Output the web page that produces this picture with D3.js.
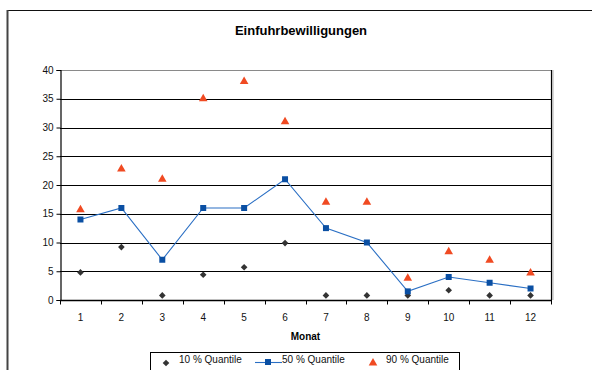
<!DOCTYPE html>
<html>
<head>
<meta charset="utf-8">
<script src="https://cdn.jsdelivr.net/npm/d3@7"></script>
<style>
  html, body { margin: 0; padding: 0; background: #fff; }
  svg { display: block; font-family: "Liberation Sans", Arial, sans-serif; }
</style>
</head>
<body>
<svg id="chart" width="592" height="370"></svg>
<script>
// Monthly import permits: 10 %, 50 % and 90 % quantiles
const months = ["1", "2", "3", "4", "5", "6", "7", "8", "9", "10", "11", "12"];
const q10 = [4.8, 9.2, 0.8, 4.4, 5.7, 9.9, 0.8, 0.8, 0.8, 1.7, 0.8, 0.8];
const q50 = [14, 16, 7, 16, 16, 21, 12.5, 10, 1.5, 4, 3, 2];
const q90 = [15.7, 22.8, 21, 35, 38, 31, 17, 17, 3.8, 8.4, 6.9, 4.7];
const yTicks = [0, 5, 10, 15, 20, 25, 30, 35, 40];
const legendLabels = ["10 % Quantile", "50 % Quantile", "90 % Quantile"];

const svg = d3.select("#chart");
const plot = { left: 60, right: 551, top: 70, bottom: 300 };

const x = d3.scaleBand().domain(months).range([plot.left, plot.right]);
const y = d3.scaleLinear().domain([0, 40]).range([plot.bottom, plot.top]);

const colors = { q10: "#333333", q50: "#0a4fa3", line: "#2a6fc4", q90: "#f04a22" };

// outer chart frame (open on the right and bottom)
svg.append("line").attr("x1", 7).attr("x2", 592).attr("y1", 10.5).attr("y2", 10.5)
  .attr("stroke", "#111").attr("stroke-width", 1);
svg.append("line").attr("x1", 7.5).attr("x2", 7.5).attr("y1", 10).attr("y2", 370)
  .attr("stroke", "#444").attr("stroke-width", 2);

// title
svg.append("text").attr("x", 301).attr("y", 35).attr("text-anchor", "middle")
  .attr("font-size", 13).attr("font-weight", "bold").attr("fill", "#000")
  .text("Einfuhrbewilligungen");

// horizontal gridlines
svg.append("g").selectAll("line").data(yTicks.filter(d => d > 0 && d < 40)).join("line")
  .attr("x1", plot.left).attr("x2", plot.right)
  .attr("y1", d => Math.round(y(d)) + 0.5).attr("y2", d => Math.round(y(d)) + 0.5)
  .attr("stroke", "#000").attr("stroke-width", 1);

// plot area border: grey top, black right with a light shadow
svg.append("line").attr("x1", plot.left).attr("x2", plot.right + 1)
  .attr("y1", plot.top + 0.5).attr("y2", plot.top + 0.5)
  .attr("stroke", "#8a8a8a").attr("stroke-width", 1.2);
svg.append("line").attr("x1", plot.right + 2).attr("x2", plot.right + 2)
  .attr("y1", plot.top).attr("y2", plot.bottom)
  .attr("stroke", "#b0b0b0").attr("stroke-width", 1);
svg.append("line").attr("x1", plot.right + 0.5).attr("x2", plot.right + 0.5)
  .attr("y1", plot.top).attr("y2", plot.bottom)
  .attr("stroke", "#000").attr("stroke-width", 1.2);

// y axis
const yAxis = svg.append("g").attr("transform", `translate(${plot.left + 0.5},0)`)
  .call(d3.axisLeft(y).tickValues(yTicks).tickSize(4).tickPadding(3));
yAxis.select(".domain").attr("stroke", "#000").attr("stroke-width", 1.2);
yAxis.selectAll(".tick line").attr("stroke", "#000");
yAxis.selectAll(".tick text").attr("font-size", 10).attr("fill", "#111")
  .attr("font-family", "Liberation Sans, Arial, sans-serif");

// x axis with ticks between categories
const xAxisG = svg.append("g").attr("transform", `translate(0,${plot.bottom + 0.5})`);
xAxisG.append("line").attr("x1", plot.left).attr("x2", plot.right + 1)
  .attr("stroke", "#000").attr("stroke-width", 1.3);
const boundaries = months.map(m => x(m)).concat([plot.right]);
xAxisG.selectAll("line.tk").data(boundaries).join("line").attr("class", "tk")
  .attr("x1", d => Math.round(d) + 0.5).attr("x2", d => Math.round(d) + 0.5)
  .attr("y1", 0).attr("y2", 4).attr("stroke", "#000");
xAxisG.selectAll("text").data(months).join("text")
  .attr("x", d => x(d) + x.bandwidth() / 2).attr("y", 20)
  .attr("text-anchor", "middle").attr("font-size", 10).attr("fill", "#111")
  .text(d => d);

// x axis title
svg.append("text").attr("x", (plot.left + plot.right) / 2).attr("y", 340)
  .attr("text-anchor", "middle").attr("font-size", 10).attr("font-weight", "bold")
  .attr("fill", "#000").text("Monat");

const cx = i => x(months[i]) + x.bandwidth() / 2;
// small square diamond (square turned by 45 degrees)
const diamond = d3.symbol().type(d3.symbolSquare).size(22);
const square = d3.symbol().type(d3.symbolSquare).size(36);
const triangle = d3.symbol().type(d3.symbolTriangle).size(32);

// 50 % quantile line
const line = d3.line().x((d, i) => cx(i)).y(d => y(d));
svg.append("path").datum(q50).attr("d", line)
  .attr("fill", "none").attr("stroke", colors.line).attr("stroke-width", 1.1);

// markers
svg.append("g").selectAll("path").data(q10).join("path")
  .attr("d", diamond).attr("transform", (d, i) => `translate(${cx(i)},${y(d)}) rotate(45)`)
  .attr("fill", colors.q10);
svg.append("g").selectAll("path").data(q50).join("path")
  .attr("d", square).attr("transform", (d, i) => `translate(${cx(i)},${y(d)})`)
  .attr("fill", colors.q50);
svg.append("g").selectAll("path").data(q90).join("path")
  .attr("d", triangle).attr("transform", (d, i) => `translate(${cx(i)},${y(d)})`)
  .attr("fill", colors.q90);

// legend
const lg = svg.append("g");
lg.append("rect").attr("x", 150.5).attr("y", 352.5).attr("width", 309).attr("height", 30)
  .attr("fill", "#fff").attr("stroke", "#000").attr("stroke-width", 1);
const legendY = 360;
lg.append("path").attr("d", diamond).attr("transform", `translate(166,${legendY + 3}) rotate(45)`)
  .attr("fill", colors.q10);
lg.append("line").attr("x1", 255).attr("x2", 282).attr("y1", legendY + 2.5).attr("y2", legendY + 2.5)
  .attr("stroke", colors.line).attr("stroke-width", 1.1);
lg.append("path").attr("d", square).attr("transform", `translate(268,${legendY + 2})`)
  .attr("fill", colors.q50);
lg.append("path").attr("d", triangle).attr("transform", `translate(373,${legendY + 3})`)
  .attr("fill", colors.q90);
const legendX = [179, 282, 386];
lg.selectAll("text").data(legendLabels).join("text")
  .attr("x", (d, i) => legendX[i]).attr("y", legendY + 3)
  .attr("font-size", 10).attr("fill", "#111").text(d => d);
</script>
</body>
</html>
